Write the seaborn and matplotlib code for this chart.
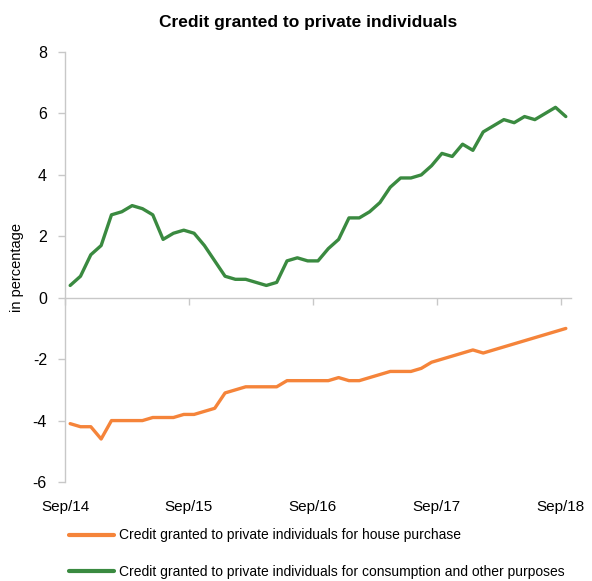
import matplotlib
matplotlib.use("Agg")
import matplotlib.pyplot as plt
import seaborn as sns
import pandas as pd
import numpy as np

months = [f"{m}/{y}" for y in range(14, 19) for m in
          ["Jan", "Feb", "Mar", "Apr", "May", "Jun", "Jul", "Aug", "Sep", "Oct", "Nov", "Dec"]][8:8 + 49]

house = [-4.1, -4.2, -4.2, -4.6, -4.0, -4.0, -4.0, -4.0, -3.9, -3.9, -3.9, -3.8,
         -3.8, -3.7, -3.6, -3.1, -3.0, -2.9, -2.9, -2.9, -2.9, -2.7, -2.7, -2.7,
         -2.7, -2.7, -2.6, -2.7, -2.7, -2.6, -2.5, -2.4, -2.4, -2.4, -2.3, -2.1,
         -2.0, -1.9, -1.8, -1.7, -1.8, -1.7, -1.6, -1.5, -1.4, -1.3, -1.2, -1.1, -1.0]
consumption = [0.4, 0.7, 1.4, 1.7, 2.7, 2.8, 3.0, 2.9, 2.7, 1.9, 2.1, 2.2,
               2.1, 1.7, 1.2, 0.7, 0.6, 0.6, 0.5, 0.4, 0.5, 1.2, 1.3, 1.2,
               1.2, 1.6, 1.9, 2.6, 2.6, 2.8, 3.1, 3.6, 3.9, 3.9, 4.0, 4.3,
               4.7, 4.6, 5.0, 4.8, 5.4, 5.6, 5.8, 5.7, 5.9, 5.8, 6.0, 6.2, 5.9]

series_names = ["Credit granted to private individuals for house purchase",
                "Credit granted to private individuals for consumption and other purposes"]
colors = ["#F5843A", "#3A8A40"]
tick_labels = ["Sep/14", "Sep/15", "Sep/16", "Sep/17", "Sep/18"]
y_ticks = [-6, -4, -2, 0, 2, 4, 6, 8]

n = len(months)
df = pd.DataFrame({
    "idx": list(range(n)) * 2,
    "value": house + consumption,
    "series": [series_names[0]] * n + [series_names[1]] * n,
})

sns.set_theme(style="white")
plt.rcParams["font.family"] = ["Liberation Sans", "DejaVu Sans"]
plt.rcParams["axes.unicode_minus"] = False
plt.rcParams["text.color"] = "black"
plt.rcParams["xtick.color"] = "black"
plt.rcParams["ytick.color"] = "black"
plt.rcParams["axes.labelcolor"] = "black"

fig = plt.figure(figsize=(5.92, 5.81), dpi=100)
ax = fig.add_axes([0.1098, 0.1704, 0.8547, 0.740])

sns.lineplot(data=df, x="idx", y="value", hue="series", palette=colors,
             linewidth=2.4, ax=ax, legend=True)

ax.set_xlim(-0.5, n - 0.5)
ax.set_ylim(-6, 8)
ax.set_yticks(y_ticks)
ax.set_yticklabels([str(v) for v in y_ticks], fontsize=11.5)

grey = "#C8C8C8"
for s in ["top", "right"]:
    ax.spines[s].set_visible(False)
ax.spines["left"].set_color(grey)
ax.spines["left"].set_linewidth(1.0)
ax.spines["bottom"].set_position(("data", 0))
ax.spines["bottom"].set_color(grey)
ax.spines["bottom"].set_linewidth(1.0)

xt = [-0.5 + 12 * k for k in range(len(tick_labels))]
ax.set_xticks(xt)
ax.set_xticklabels([])
ax.tick_params(axis="x", direction="out", length=5, color=grey, width=1.0, bottom=True)
ax.tick_params(axis="y", direction="out", length=5, color=grey, width=1.0, left=True,
               pad=8, labelcolor="black")

sec = ax.secondary_xaxis(0.0)
sec.set_xticks(xt)
sec.set_xticklabels(tick_labels, fontsize=11, color="black")
sec.tick_params(length=0, pad=13)
sec.spines["bottom"].set_visible(False)

ax.set_xlabel("")
ax.set_ylabel("in percentage", fontsize=10.5, labelpad=6, color="black")

handles, labels = ax.get_legend_handles_labels()
ax.get_legend().remove()
leg = fig.legend(handles, labels, loc="upper left", bbox_to_anchor=(0.108, 0.10),
                 frameon=False, fontsize=10, handlelength=3.2, handletextpad=0.35,
                 labelspacing=1.6, borderaxespad=0)
for h in leg.get_lines():
    h.set_linewidth(3)

fig.text(0.52, 0.962, "Credit granted to private individuals", ha="center", va="center",
         fontsize=12.5, fontweight="bold", color="black")

fig.savefig("out.png", dpi=100)
